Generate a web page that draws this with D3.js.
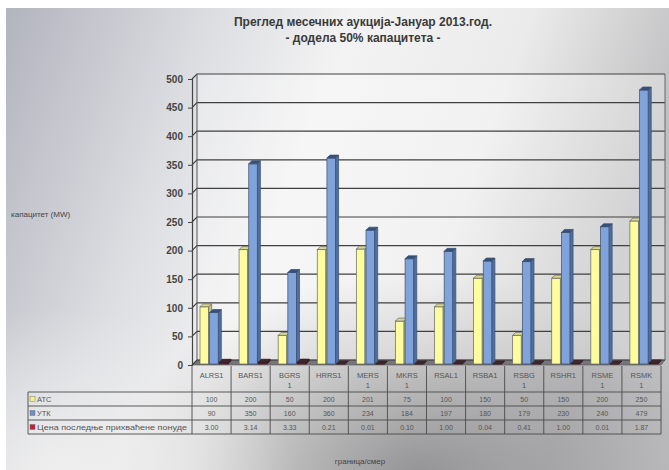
<!DOCTYPE html>
<html><head><meta charset="utf-8">
<script src="https://cdn.jsdelivr.net/npm/d3@7"></script>
<style>
html,body{margin:0;padding:0;background:#fff}
svg{display:block}
text{font-family:"Liberation Sans",Arial,sans-serif}
</style>
</head><body>
<svg id="chart" width="669" height="470"></svg>
<script>
// Border crossings (direction) and their table header lines
const categories = ["ALRS1","BARS1","BGRS1","HRRS1","MERS1","MKRS1","RSAL1","RSBA1","RSBG1","RSHR1","RSME1","RSMK1"];
const categoryLines = [["ALRS1"],["BARS1"],["BGRS","1"],["HRRS1"],["MERS","1"],["MKRS","1"],["RSAL1"],["RSBA1"],["RSBG","1"],["RSHR1"],["RSME","1"],["RSMK","1"]];
const seriesNames = ["АТС","УТК","Цена последње прихваћене понуде"];
// Offered capacity (MW)
const atc = [100,200,50,200,201,75,100,150,50,150,200,250];
// Total requested capacity (MW)
const requested = [90,350,160,360,234,184,197,180,179,230,240,479];
// Price of the last accepted bid
const price = [3.00,3.14,3.33,0.21,0.01,0.10,1.00,0.04,0.41,1.00,0.01,1.87];
const yTicks = [0,50,100,150,200,250,300,350,400,450,500];

const svg = d3.select("#chart");
const W = 669, H = 470;
const defs = svg.append("defs");

// ---- page background ----
const bg = defs.append("linearGradient").attr("id","bg").attr("x1",0).attr("y1",0).attr("x2",1).attr("y2",0.25);
[[0,"#b2b4be"],[0.3,"#dddee2"],[0.5,"#f3f3f3"],[0.75,"#ebebeb"],[1,"#bfbfc1"]].forEach(s=>bg.append("stop").attr("offset",s[0]).attr("stop-color",s[1]));
const shade = defs.append("radialGradient").attr("id","shade").attr("cx",0.62).attr("cy",1.02).attr("r",0.45);
shade.append("stop").attr("offset",0).attr("stop-color","#8a8a8c").attr("stop-opacity",0.9);
shade.append("stop").attr("offset",1).attr("stop-color","#8a8a8c").attr("stop-opacity",0);
const glow = defs.append("radialGradient").attr("id","glow").attr("cx",0.08).attr("cy",1).attr("r",0.35);
glow.append("stop").attr("offset",0).attr("stop-color","#f0f0f0").attr("stop-opacity",0.9);
glow.append("stop").attr("offset",1).attr("stop-color","#f0f0f0").attr("stop-opacity",0);

svg.append("rect").attr("width",W).attr("height",H).attr("fill","#fff");
svg.append("rect").attr("x",6).attr("y",8).attr("width",W-6).attr("height",H-8).attr("fill","url(#bg)");
svg.append("rect").attr("x",6).attr("y",8).attr("width",W-6).attr("height",H-8).attr("fill","url(#shade)");
svg.append("rect").attr("x",6).attr("y",8).attr("width",W-6).attr("height",H-8).attr("fill","url(#glow)");

// ---- scales ----
const x = d3.scaleBand().domain(categories).range([192, 661]);
const y = d3.scaleLinear().domain([0,500]).range([365, 79]);
const sub = d3.scaleBand().domain([0,1,2]).range([7, 36]);
const wallDx = 5, wallDy = -5;
const x0 = x.range()[0], x1 = x.range()[1];

// ---- walls and floor ----
svg.append("rect").attr("x",x0+wallDx).attr("y",y(500)+wallDy)
  .attr("width",665-(x0+wallDx)).attr("height",y(0)-y(500))
  .attr("fill","#ffffff").attr("fill-opacity",0.3);
svg.append("polygon")
  .attr("points",[[x0,y(0)],[x0+wallDx,y(0)+wallDy],[665,y(0)+wallDy],[x1,y(0)]].join(" "))
  .attr("fill","#76767a").attr("stroke","#555").attr("stroke-width",0.6);

// gridlines drawn along side wall and back wall
svg.append("g").selectAll("path").data(yTicks).join("path")
  .attr("d",d=>`M${x0},${y(d)}L${x0+wallDx},${y(d)+wallDy}L665,${y(d)+wallDy}`)
  .attr("fill","none").attr("stroke","#404040").attr("stroke-width",1.2);
svg.append("line").attr("x1",x0+wallDx).attr("x2",x0+wallDx)
  .attr("y1",y(500)+wallDy).attr("y2",y(0)+wallDy).attr("stroke","#555");
svg.append("line").attr("x1",665).attr("x2",665)
  .attr("y1",y(500)+wallDy).attr("y2",y(0)+wallDy).attr("stroke","#666");

// ---- y axis ----
const yAxis = d3.axisLeft(y).tickValues(yTicks).tickSize(4).tickPadding(5);
const ya = svg.append("g").attr("transform",`translate(${x0},0)`).call(yAxis);
ya.select(".domain").attr("stroke","#444").attr("stroke-width",1.2);
ya.selectAll(".tick line").attr("stroke","#444");
ya.selectAll("text").attr("font-size",10).attr("font-weight","bold")
  .attr("fill","#444").attr("font-family","'Liberation Sans',Arial,sans-serif");

// ---- 3D columns ----
const depth = 3;
const styles = [
  {front:"#fdfd9e", side:"#c7c67a", top:"#d8d690", stroke:"#666"},
  {front:"#7fa3da", side:"#4d6fa3", top:"#35507c", stroke:"#3e4f6a"},
  {front:"#5e2232", side:"#461424", top:"#3a2a30", stroke:"#3a1a22"}
];
const seriesData = [atc, requested, price];

function column(g, bx, bw, v, st){
  const base = y(0) - 1;
  const top = base - (y(0) - y(v));
  g.append("rect").attr("x",bx).attr("y",top).attr("width",bw).attr("height",base-top)
    .attr("fill",st.front).attr("stroke",st.stroke).attr("stroke-width",0.7);
  g.append("polygon").attr("points",[[bx+bw,top],[bx+bw+depth,top-depth],[bx+bw+depth,base-depth],[bx+bw,base]].join(" "))
    .attr("fill",st.side).attr("stroke",st.stroke).attr("stroke-width",0.7);
  g.append("polygon").attr("points",[[bx,top],[bx+depth,top-depth],[bx+bw+depth,top-depth],[bx+bw,top]].join(" "))
    .attr("fill",st.top).attr("stroke",st.stroke).attr("stroke-width",0.7);
}

const bars = svg.append("g");
categories.forEach((c,i)=>{
  seriesData.forEach((arr,s)=>{
    column(bars, x(c)+sub(s)+1, sub.bandwidth()-1, arr[i], styles[s]);
  });
});

// ---- data table ----
const tbl = svg.append("g");
const rowTop = 392, rowH = 14, tableLeft = 28;
const lineCol = "#4a4a4a";
// column boundaries
x.domain().concat([null]).forEach((c,i)=>{
  const xx = c===null ? x1 : x(c);
  tbl.append("line").attr("x1",xx).attr("x2",xx).attr("y1",y(0)+1).attr("y2",rowTop+3*rowH)
    .attr("stroke",lineCol).attr("stroke-width",0.9);
});
tbl.append("line").attr("x1",tableLeft).attr("x2",tableLeft).attr("y1",rowTop).attr("y2",rowTop+3*rowH)
  .attr("stroke",lineCol).attr("stroke-width",0.9);
for(let r=0;r<=3;r++){
  tbl.append("line").attr("x1",tableLeft).attr("x2",x1).attr("y1",rowTop+r*rowH).attr("y2",rowTop+r*rowH)
    .attr("stroke",lineCol).attr("stroke-width",0.9);
}
// header labels
categories.forEach((c,i)=>{
  const lines = categoryLines[i];
  lines.forEach((t,k)=>{
    tbl.append("text").attr("x",x(c)+x.bandwidth()/2).attr("y",378+k*10)
      .attr("text-anchor","middle").attr("font-size",7.5).attr("fill","#555").text(t);
  });
});
// row labels with legend keys
const keyColors = ["#f5f08a","#6d8fc8","#c0203a"];
seriesNames.forEach((n,r)=>{
  const cy = rowTop + r*rowH + rowH/2;
  tbl.append("rect").attr("x",30).attr("y",cy-2.5).attr("width",5).attr("height",5)
    .attr("fill",keyColors[r]).attr("stroke","#666").attr("stroke-width",0.4);
  const t = tbl.append("text").attr("x",37).attr("y",cy+2.5).attr("font-size",7.5).attr("fill","#555").text(n);
  if(r===2) t.attr("textLength",150).attr("lengthAdjust","spacingAndGlyphs");
});
// values
const fmt = [d3.format("d"), d3.format("d"), d3.format(".2f")];
seriesData.forEach((arr,r)=>{
  const cy = rowTop + r*rowH + rowH/2;
  categories.forEach((c,i)=>{
    tbl.append("text").attr("x",x(c)+x.bandwidth()/2).attr("y",cy+2.5)
      .attr("text-anchor","middle").attr("font-size",7).attr("fill","#555").text(fmt[r](arr[i]));
  });
});

// ---- titles ----
svg.append("text").attr("x",363).attr("y",26).attr("text-anchor","middle")
  .attr("font-size",12).attr("font-weight","bold").attr("fill","#3a3a3a")
  .text("Преглед месечних аукција-Јануар 2013.год.");
svg.append("text").attr("x",363).attr("y",42).attr("text-anchor","middle")
  .attr("font-size",12).attr("font-weight","bold").attr("fill","#3a3a3a")
  .text("- додела 50% капацитета -");
svg.append("text").attr("x",11).attr("y",217).attr("font-size",8).attr("fill","#444")
  .text("капацитет  (MW)");
svg.append("text").attr("x",360).attr("y",464).attr("text-anchor","middle")
  .attr("font-size",8).attr("fill","#444").text("граница/смер");
</script>
</body></html>
